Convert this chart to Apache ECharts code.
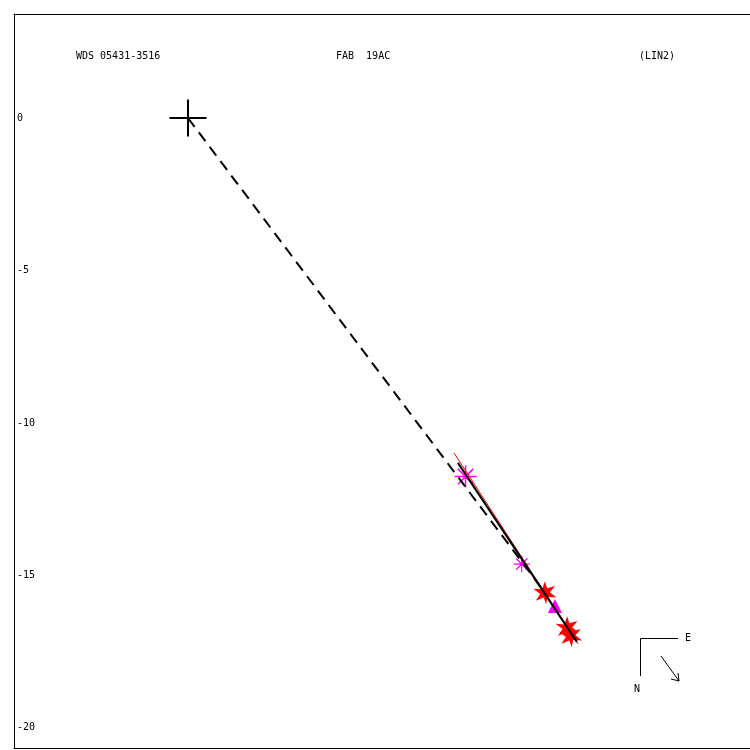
<!DOCTYPE html>
<html><head><meta charset="utf-8">
<script src="https://cdn.jsdelivr.net/npm/echarts@6/dist/echarts.min.js"></script>
<style>html,body{margin:0;padding:0;background:#fff}#c{width:750px;height:750px}</style>
</head><body><div id="c"></div>
<script>
// Data (arcsec offsets)
const originPoint = [[0, 0]];
const asteriskBig = [[9.10, -11.76]];
const asteriskSmall = [[10.94, -14.63]];
const redStars = [[11.70, -15.57], [12.43, -16.72], [12.54, -16.98]];
const triangles = [[12.03, -16.00]];
const redFitLine = [[8.72, -10.98], [12.79, -17.25]];
const blackFitLine = [[8.85, -11.31], [12.75, -17.18]];
const dashedLine = [[0, 0], [11.64, -15.48]];
const yTickValues = [0, -5, -10, -15, -20];
const titleTexts = ['WDS 05431-3516', 'FAB  19AC', '(LIN2)'];

const FONT = 'DejaVu Sans Mono';
const chart = echarts.init(document.getElementById('c'), null, {renderer: 'canvas'});
const asteriskPath = 'path://M10,0 L10,20 M0,10 L20,10 M3,3 L17,17 M3,17 L17,3 M10,8 L10,12';
const starPath = 'path://M50,0 L60,30 L95,20 L72,48 L100,70 L62,68 L55,100 L45,70 L10,85 L30,55 L0,32 L38,35 Z';
const crossPath = 'path://M17,0 L19,0 L19,36 L17,36 Z M0,17 L36,17 L36,19 L0,19 Z';
const frameAxis = {type: 'value', min: -5.705, max: 18.426, axisLine: {show: true, onZero: false, lineStyle: {color: '#000', width: 1}},
  axisTick: {show: false}, axisLabel: {show: false}, splitLine: {show: false}};

chart.setOption({
  animation: false,
  backgroundColor: '#fff',
  title: [
    {text: titleTexts[0], left: 71, top: 46},
    {text: titleTexts[1], left: 331, top: 46},
    {text: titleTexts[2], left: 634, top: 46}
  ].map(t => Object.assign(t, {textStyle: {fontFamily: FONT, fontSize: 10, fontWeight: 'normal', color: '#000'}})),
  grid: {left: 14, top: 14, right: 0, bottom: 2, show: false},
  xAxis: [Object.assign({position: 'bottom'}, frameAxis), Object.assign({position: 'top'}, frameAxis)],
  yAxis: {
    type: 'value', min: -20.66, max: 3.41,
    axisLine: {show: true, onZero: false, lineStyle: {color: '#000', width: 1}}, axisTick: {show: false}, splitLine: {show: false},
    axisLabel: {inside: true, margin: 3, customValues: yTickValues, fontFamily: FONT, fontSize: 10, color: '#000'}
  },
  series: [
    {type: 'scatter', data: redStars, symbol: starPath, symbolSize: 23, itemStyle: {color: '#ff0000', opacity: 1}, z: 2},
    {type: 'scatter', data: triangles, symbol: 'triangle', symbolSize: 14, itemStyle: {color: '#ff00ff', opacity: 1}, z: 2},
    {type: 'scatter', data: asteriskBig, symbol: asteriskPath, symbolSize: 22, itemStyle: {color: 'rgba(0,0,0,0)', borderColor: '#ff00ff', borderWidth: 1.5, opacity: 1}, z: 2},
    {type: 'scatter', data: asteriskSmall, symbol: asteriskPath, symbolSize: 16, itemStyle: {color: 'rgba(0,0,0,0)', borderColor: '#ff00ff', borderWidth: 1.2, opacity: 1}, z: 2},
    {type: 'scatter', data: asteriskSmall, symbol: 'circle', symbolSize: 4, itemStyle: {color: '#ff00ff', opacity: 1}, z: 2},
    {type: 'line', data: redFitLine, symbol: 'none', lineStyle: {color: '#ff0000', width: 1}, z: 3},
    {type: 'line', data: dashedLine, symbol: 'none', lineStyle: {color: '#000', width: 2, type: [11, 7]}, z: 3},
    {type: 'line', data: blackFitLine, symbol: 'none', lineStyle: {color: '#000', width: 2}, z: 4},
    {type: 'scatter', data: originPoint, symbol: crossPath, symbolSize: 37, itemStyle: {color: '#000', opacity: 1}, z: 5}
  ],
  graphic: [
    {type: 'polyline', shape: {points: [[678, 638.5], [640.5, 638.5], [640.5, 676]]}, style: {stroke: '#000', lineWidth: 1, fill: null}},
    {type: 'line', shape: {x1: 661, y1: 656, x2: 679, y2: 681}, style: {stroke: '#000', lineWidth: 1}},
    {type: 'polyline', shape: {points: [[671, 679], [679, 681], [678, 673]]}, style: {stroke: '#000', lineWidth: 1, fill: null}},
    {type: 'text', x: 685, y: 633, style: {text: 'E', font: '10px ' + FONT, fill: '#000'}},
    {type: 'text', x: 634, y: 684, style: {text: 'N', font: '10px ' + FONT, fill: '#000'}}
  ]
});
</script></body></html>
